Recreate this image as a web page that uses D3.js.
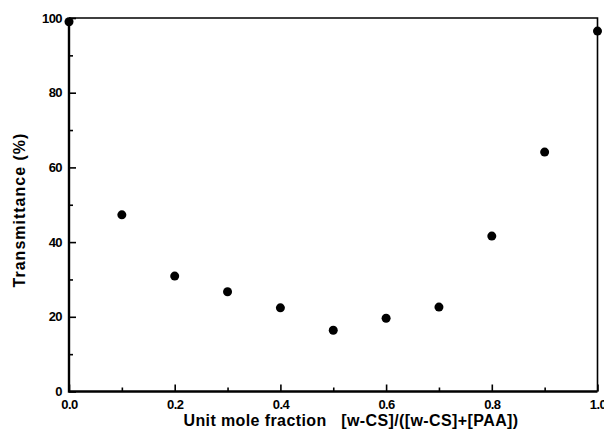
<!DOCTYPE html>
<html>
<head>
<meta charset="utf-8">
<script src="https://cdn.jsdelivr.net/npm/d3@7"></script>
<style>
  body { margin: 0; background: #fff; }
  svg { display: block; font-family: 'Liberation Sans', Arial, sans-serif; }
  .tick text { font-weight: bold; font-size: 13px; letter-spacing: -0.6px; fill: #000; }
  .tick line { stroke: #000; stroke-width: 1.6; }
</style>
</head>
<body>
<svg></svg>
<script>
const w = 604
const h = 441

const fractions = [0.0, 0.1, 0.2, 0.3, 0.4, 0.5, 0.6, 0.7, 0.8, 0.9, 1.0]
const transmittance = [99.0, 47.3, 30.9, 26.7, 22.4, 16.4, 19.6, 22.6, 41.6, 64.1, 96.5]

const xTicks = [0.0, 0.2, 0.4, 0.6, 0.8, 1.0]
const xMinor = [0.1, 0.3, 0.5, 0.7, 0.9]
const yTicks = [0, 20, 40, 60, 80, 100]
const yMinor = [10, 30, 50, 70, 90]

const xTitle = 'Unit mole fraction   [w-CS]/([w-CS]+[PAA])'
const yTitle = 'Transmittance (%)'

const pl = 69
const pr = 597.5
const pt = 18
const pb = 391.5

const svg = d3.select('svg').attr('width', w).attr('height', h)

const x = d3.scaleLinear().domain([0, 1]).range([pl, pr])
const y = d3.scaleLinear().domain([0, 100]).range([pb, pt])

// frame: top and right thinner
svg.append('path')
  .attr('d', `M${pl},${pt}H${pr}V${pb}`)
  .attr('fill', 'none')
  .attr('stroke', '#000')
  .attr('stroke-width', 1.6)

// x axis
const xAxis = svg.append('g')
  .attr('transform', `translate(0, ${pb})`)
  .call(d3.axisBottom(x).tickValues(xTicks).tickSize(-7).tickPadding(8)
    .tickFormat(d3.format('.1f')))
xAxis.select('.domain').remove()

svg.append('g')
  .attr('transform', `translate(0, ${pb})`)
  .call(d3.axisBottom(x).tickValues(xMinor).tickSize(-4).tickFormat(''))
  .select('.domain').remove()

// y axis
const yAxis = svg.append('g')
  .attr('transform', `translate(${pl}, 0)`)
  .call(d3.axisLeft(y).tickValues(yTicks).tickSize(-7).tickPadding(7))
yAxis.select('.domain').remove()

svg.append('g')
  .attr('transform', `translate(${pl}, 0)`)
  .call(d3.axisLeft(y).tickValues(yMinor).tickSize(-4).tickFormat(''))
  .select('.domain').remove()

// thick left and bottom lines
svg.append('path')
  .attr('d', `M${pl},${pt}V${pb}H${pr}`)
  .attr('fill', 'none')
  .attr('stroke', '#000')
  .attr('stroke-width', 2.4)

// titles
svg.append('text')
  .attr('x', 351)
  .attr('y', 426)
  .attr('text-anchor', 'middle')
  .attr('font-weight', 'bold')
  .attr('font-size', 16)
  .attr('letter-spacing', 0.4)
  .style('white-space', 'pre')
  .text(xTitle)

svg.append('text')
  .attr('transform', `translate(25, 210) rotate(-90)`)
  .attr('text-anchor', 'middle')
  .attr('font-weight', 'bold')
  .attr('font-size', 16)
  .attr('letter-spacing', 1)
  .text(yTitle)

// points
svg.selectAll('circle')
  .data(fractions)
  .enter()
  .append('circle')
  .attr('cx', d => x(d))
  .attr('cy', (d, i) => y(transmittance[i]))
  .attr('r', 4.5)
  .attr('fill', '#000')
</script>
</body>
</html>
